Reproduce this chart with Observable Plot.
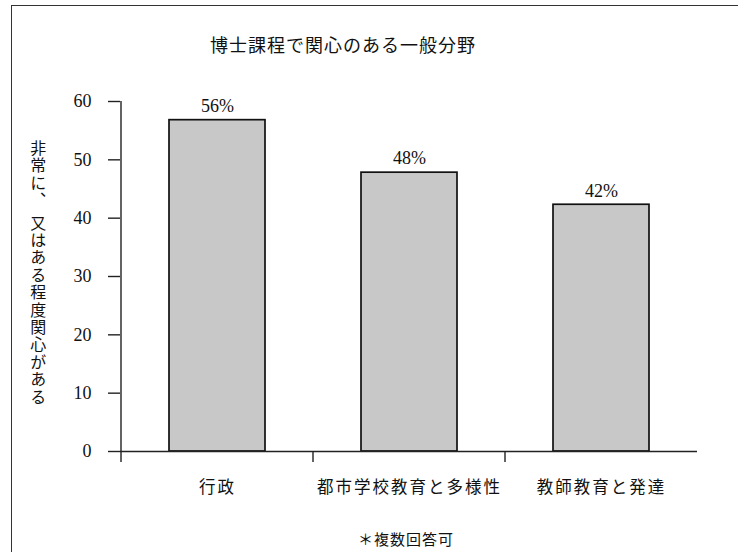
<!DOCTYPE html>
<html>
<head>
<meta charset="utf-8">
<script src="https://cdn.jsdelivr.net/npm/d3@7"></script>
<script src="https://cdn.jsdelivr.net/npm/@observablehq/plot@0.6"></script>
<style>
  body { margin: 0; background: #fff; }
  #wrap { position: relative; width: 738px; height: 552px; overflow: hidden; background: #fff; }
  #frame { position: absolute; left: 11px; top: 5px; right: -10px; bottom: -10px;
           border-left: 1.5px solid #333; border-top: 1.5px solid #333; }
  #title { position: absolute; left: 210px; top: 34px; font-family: "Noto Sans CJK JP", sans-serif;
           font-size: 18px; letter-spacing: 1px; color: #111; white-space: nowrap; line-height: 1.2; }
  #ylabel { position: absolute; left: 28px; top: 140px; writing-mode: vertical-rl;
            font-family: "Noto Sans CJK JP", sans-serif; font-size: 16px; letter-spacing: 1.4px;
            color: #111; white-space: nowrap; line-height: 1.2; }
  #caption { position: absolute; left: 358px; top: 530px;
             font-family: "Noto Sans CJK JP", sans-serif; font-size: 15px; letter-spacing: 1px;
             color: #111; white-space: nowrap; line-height: 18px; }
  #chart { position: absolute; left: 0; top: 0; }
  .xlab text { letter-spacing: 2px; }
</style>
</head>
<body>
<div id="wrap">
  <div id="frame"></div>
  <div id="chart"></div>
  <div id="title"></div>
  <div id="ylabel"></div>
  <div id="caption"></div>
</div>
<script>
const titleText = "博士課程で関心のある一般分野";
const yLabelText = "非常に、 又はある程度関心がある";
const captionText = "＊複数回答可";
const categories = ["行政", "都市学校教育と多様性", "教師教育と発達"];
const values = [56.8, 47.8, 42.3];
const valueLabels = ["56%", "48%", "42%"];
const yTicks = [0, 10, 20, 30, 40, 50, 60];

document.getElementById("title").textContent = titleText;
document.getElementById("ylabel").textContent = yLabelText;
document.getElementById("caption").textContent = captionText;

const data = categories.map((c, i) => ({cat: c, value: values[i], label: valueLabels[i]}));
const serif = "'Liberation Serif', 'DejaVu Serif', serif";
const cjk = "'Noto Sans CJK JP', sans-serif";

// Axis lines and boundary ticks drawn from the scales
function axisLines(index, scales, values, dimensions) {
  const {x, y} = scales;
  const g = d3.create("svg:g").attr("stroke", "#222").attr("stroke-width", 1.4);
  const bw = x.bandwidth ? x.bandwidth() : 0;
  const step = x.step ? x.step() : bw;
  const y0 = y(0);
  const x0 = x(categories[0]) - (step - bw) / 2;
  g.append("line").attr("x1", x0).attr("x2", x0)
    .attr("y1", y(yTicks[yTicks.length - 1])).attr("y2", y0 + 11);
  categories.slice(1).forEach(c => {
    const xb = x(c) - (step - bw) / 2;
    g.append("line").attr("x1", xb).attr("x2", xb).attr("y1", y0).attr("y2", y0 + 11);
  });
  return g.node();
}

const chart = Plot.plot({
  width: 738,
  height: 552,
  marginTop: 101,
  marginBottom: 101,
  marginLeft: 120,
  marginRight: 41,
  style: {background: "transparent", fontFamily: serif, color: "#111"},
  x: {domain: categories, paddingInner: 0.5, paddingOuter: 0.25, axis: null, label: null},
  y: {domain: [0, 60], axis: null, label: null},
  marks: [
    Plot.barY(data, {x: "cat", y: "value", fill: "#c8c8c8", stroke: "#111", strokeWidth: 1.7}),
    Plot.ruleY([0], {stroke: "#222", strokeWidth: 1.4}),
    Plot.axisY({ticks: yTicks, tickSize: 12, tickPadding: 17, fontSize: 18, fontFamily: serif,
                stroke: "#222", strokeWidth: 1.4, tickFormat: d => String(d), label: null}),
    axisLines,
    Plot.axisX({tickSize: 0, tickPadding: 30, fontSize: 16.5, fontFamily: cjk, className: "xlab", label: null}),
    Plot.text(data, {x: "cat", y: "value", text: "label", dy: -14, fontSize: 18, fontFamily: serif, fill: "#111"})
  ]
});
document.getElementById("chart").appendChild(chart);
</script>
</body>
</html>
